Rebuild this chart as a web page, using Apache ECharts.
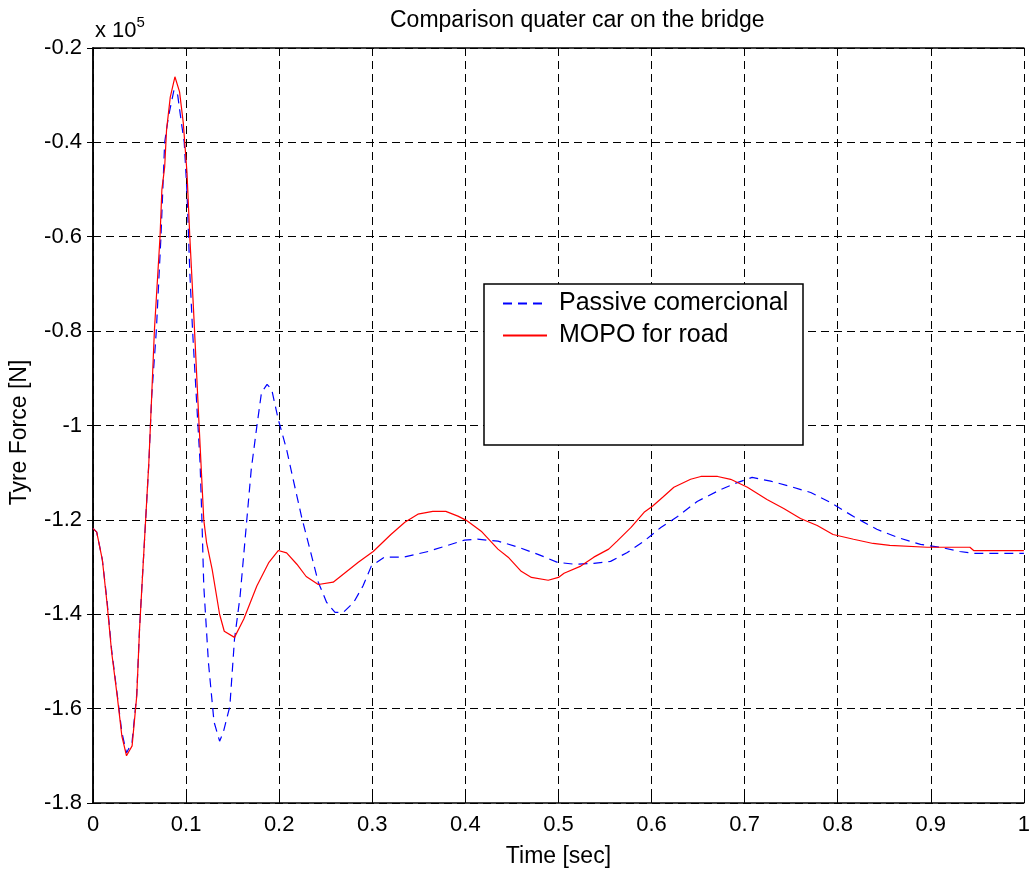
<!DOCTYPE html>
<html>
<head>
<meta charset="utf-8">
<script src="https://cdn.jsdelivr.net/npm/echarts@6/dist/echarts.min.js"></script>
<style>html,body{margin:0;padding:0;background:#fff;}#chart{width:1033px;height:873px;}</style>
</head>
<body>
<div id="chart"></div>
<script>
// Time [sec] and tyre force [x 1e5 N]
const passiveT = [0,0.004,0.01,0.015,0.02,0.026,0.031,0.036,0.042,0.047,0.05,0.054,0.06,0.063,0.068,0.073,0.077,0.081,0.087,0.091,0.095,0.098,0.101,0.104,0.107,0.111,0.115,0.117,0.119,0.124,0.13,0.136,0.14,0.147,0.152,0.158,0.165,0.17,0.176,0.181,0.187,0.192,0.199,0.208,0.215,0.224,0.233,0.242,0.251,0.26,0.269,0.28,0.29,0.299,0.313,0.334,0.36,0.381,0.399,0.413,0.435,0.457,0.478,0.499,0.517,0.538,0.556,0.574,0.592,0.61,0.628,0.649,0.674,0.692,0.708,0.728,0.749,0.771,0.792,0.817,0.842,0.864,0.889,0.91,0.931,0.946,1.0];
const passiveF = [-1.218,-1.226,-1.284,-1.37,-1.475,-1.57,-1.65,-1.694,-1.67,-1.57,-1.43,-1.29,-1.08,-0.94,-0.8,-0.6,-0.4,-0.346,-0.289,-0.30,-0.359,-0.4,-0.507,-0.676,-0.8,-0.939,-1.078,-1.199,-1.34,-1.502,-1.628,-1.669,-1.65,-1.595,-1.453,-1.362,-1.205,-1.093,-1.002,-0.93,-0.913,-0.924,-0.987,-1.051,-1.114,-1.193,-1.262,-1.332,-1.375,-1.396,-1.396,-1.375,-1.34,-1.298,-1.279,-1.279,-1.267,-1.254,-1.243,-1.241,-1.245,-1.258,-1.273,-1.29,-1.294,-1.292,-1.288,-1.269,-1.245,-1.216,-1.193,-1.161,-1.136,-1.121,-1.11,-1.118,-1.129,-1.142,-1.163,-1.193,-1.22,-1.237,-1.252,-1.258,-1.267,-1.271,-1.271];
const mopoT = [0,0.004,0.01,0.015,0.02,0.026,0.031,0.036,0.042,0.047,0.05,0.054,0.06,0.063,0.066,0.072,0.074,0.077,0.079,0.083,0.088,0.093,0.097,0.101,0.104,0.108,0.114,0.119,0.122,0.128,0.136,0.141,0.152,0.162,0.176,0.189,0.199,0.208,0.219,0.229,0.242,0.258,0.285,0.301,0.32,0.335,0.349,0.365,0.379,0.392,0.401,0.417,0.435,0.446,0.46,0.471,0.489,0.5,0.506,0.524,0.538,0.554,0.563,0.578,0.592,0.601,0.612,0.624,0.642,0.653,0.671,0.685,0.703,0.724,0.742,0.76,0.778,0.795,0.817,0.838,0.856,0.896,0.942,0.946,1.0];
const mopoF = [-1.218,-1.226,-1.284,-1.375,-1.48,-1.573,-1.658,-1.70,-1.679,-1.573,-1.432,-1.29,-1.078,-0.939,-0.797,-0.6,-0.5,-0.452,-0.374,-0.304,-0.261,-0.293,-0.359,-0.465,-0.6,-0.755,-1.0,-1.2,-1.248,-1.305,-1.40,-1.436,-1.449,-1.41,-1.34,-1.29,-1.265,-1.27,-1.294,-1.32,-1.337,-1.332,-1.29,-1.267,-1.231,-1.205,-1.188,-1.182,-1.182,-1.192,-1.201,-1.224,-1.262,-1.279,-1.309,-1.322,-1.328,-1.322,-1.313,-1.298,-1.279,-1.262,-1.245,-1.216,-1.184,-1.171,-1.152,-1.131,-1.114,-1.108,-1.108,-1.114,-1.131,-1.157,-1.176,-1.197,-1.212,-1.231,-1.241,-1.25,-1.254,-1.258,-1.258,-1.265,-1.265];
const seriesNames = ['Passive comercional', 'MOPO for road'];
const titleText = 'Comparison quater car on the bridge';
const xName = 'Time [sec]';
const yName = 'Tyre Force [N]';

const FONT = 'Liberation Sans, Arial, sans-serif';
const fmt = v => String(+(+v).toFixed(2));
const boxAxis = {
  axisLine: { show: true, lineStyle: { color: '#000', width: 1.5 } },
  axisTick: { show: true, inside: true, length: 6, lineStyle: { color: '#000', width: 1 } }
};
const chart = echarts.init(document.getElementById('chart'), null, { renderer: 'canvas' });
chart.setOption({
  backgroundColor: '#fff',
  animation: false,
  title: [
    { text: titleText, left: 385, top: 4, textStyle: { fontFamily: FONT, fontSize: 23, fontWeight: 'normal', color: '#000' } },
    { text: '{a|x 10}{b|5}', left: 90, top: 10,
      textStyle: { rich: { a: { fontFamily: FONT, fontSize: 22, fontWeight: 'normal', color: '#000', verticalAlign: 'bottom' },
                           b: { fontFamily: FONT, fontSize: 15, fontWeight: 'normal', color: '#000', verticalAlign: 'top', padding: [0,0,12,0] } } } }
  ],
  grid: { left: 91, right: 9, top: 48, bottom: 69, containLabel: false },
  legend: {
    orient: 'vertical', left: 497, top: 286, itemWidth: 44, itemHeight: 14, itemGap: 7,
    data: seriesNames,
    itemStyle: { opacity: 0 },
    textStyle: { fontFamily: FONT, fontSize: 25, color: '#000', padding: [0, 0, 0, 7] },
    z: 6
  },
  graphic: [
    { type: 'rect', z: 5, shape: { x: 484, y: 284, width: 319, height: 161 }, style: { fill: '#fff', stroke: '#000', lineWidth: 1.5 } }
  ],
  xAxis: [
    Object.assign({ type: 'value', min: 0, max: 1, interval: 0.1, position: 'bottom',
      name: xName, nameLocation: 'middle', nameGap: 42,
      nameTextStyle: { fontFamily: FONT, fontSize: 23, color: '#000' },
      axisLabel: { formatter: fmt, margin: 11, fontFamily: FONT, fontSize: 22, color: '#000' },
      splitLine: { show: true, lineStyle: { color: '#000', type: [8, 5], width: 1 } } }, boxAxis),
    Object.assign({ type: 'value', min: 0, max: 1, interval: 0.1, position: 'top',
      axisLabel: { show: false }, splitLine: { show: false } }, boxAxis)
  ],
  yAxis: [
    Object.assign({ type: 'value', min: -1.8, max: -0.2, interval: 0.2, position: 'left',
      name: yName, nameLocation: 'middle', nameGap: 62,
      nameTextStyle: { fontFamily: FONT, fontSize: 23, color: '#000', padding: [0, 14, 0, 0] },
      axisLabel: { formatter: fmt, margin: 11, fontFamily: FONT, fontSize: 22, color: '#000' },
      splitLine: { show: true, lineStyle: { color: '#000', type: [8, 5], width: 1 } } }, boxAxis),
    Object.assign({ type: 'value', min: -1.8, max: -0.2, interval: 0.2, position: 'right',
      axisLabel: { show: false }, splitLine: { show: false } }, boxAxis)
  ],
  series: [
    { name: seriesNames[0], type: 'line', symbol: 'none', smooth: false, z: 3,
      lineStyle: { color: '#0000ff', width: 1.2, type: [9, 6] }, itemStyle: { color: '#0000ff' },
      data: passiveT.map((t, i) => [t, passiveF[i]]) },
    { name: seriesNames[1], type: 'line', symbol: 'none', smooth: false, z: 4,
      lineStyle: { color: '#ff0000', width: 1.2 }, itemStyle: { color: '#ff0000' },
      data: mopoT.map((t, i) => [t, mopoF[i]]) }
  ]
});
</script>
</body>
</html>
